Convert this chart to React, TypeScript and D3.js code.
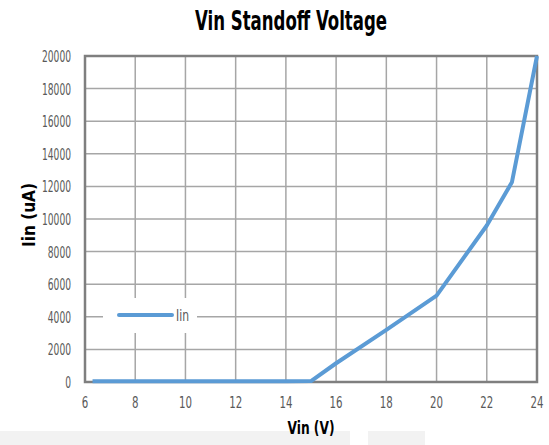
import { useEffect, useRef } from "react";
import * as d3 from "d3";

const width = 549;
const height = 445;

const vin = [6.3, 8, 10, 12, 14, 15, 16, 18, 20, 22, 23, 24];
const iin = [50, 50, 50, 50, 50, 60, 1150, 3200, 5300, 9600, 12250, 20000];
const xTicks = [6, 8, 10, 12, 14, 16, 18, 20, 22, 24];
const yTicks = [0, 2000, 4000, 6000, 8000, 10000, 12000, 14000, 16000, 18000, 20000];
const seriesName = "Iin";

const font = "'DejaVu Sans Condensed', 'DejaVu Sans', sans-serif";

const App = () => {
  const chartRef = useRef<SVGSVGElement>(null);

  useEffect(() => {
    const svg = d3.select(chartRef.current);
    svg.selectAll("*").remove();

    const x = d3.scaleLinear().domain([6, 24]).range([85, 537]);
    const y = d3.scaleLinear().domain([0, 20000]).range([382, 56]);

    // light band at the bottom of the screenshot
    svg.append("rect").attr("x", 0).attr("y", 431).attr("width", 350).attr("height", 14).attr("fill", "#f2f2f2");
    svg.append("rect").attr("x", 368).attr("y", 431).attr("width", 57).attr("height", 14).attr("fill", "#f2f2f2");

    svg.append("text")
      .attr("x", 195).attr("y", 30)
      .attr("textLength", 192).attr("lengthAdjust", "spacingAndGlyphs")
      .style("font-family", font).style("font-weight", "bold").style("font-size", "27px")
      .attr("fill", "#000")
      .text("Vin Standoff Voltage");

    const grid = svg.append("g").attr("stroke", "#a6a6a6").attr("stroke-width", 1.5);
    grid.selectAll(".gx").data(xTicks).enter().append("line")
      .attr("x1", d => x(d)).attr("x2", d => x(d))
      .attr("y1", y(0)).attr("y2", y(20000));
    grid.selectAll(".gy").data(yTicks).enter().append("line")
      .attr("x1", x(6)).attr("x2", x(24))
      .attr("y1", d => y(d)).attr("y2", d => y(d));

    // legend box over the grid
    svg.append("rect").attr("x", 103).attr("y", 298).attr("width", 94).attr("height", 35).attr("fill", "#fff");

    svg.append("rect")
      .attr("x", x(6)).attr("y", y(20000))
      .attr("width", x(24) - x(6)).attr("height", y(0) - y(20000))
      .attr("fill", "none").attr("stroke", "#7f7f7f").attr("stroke-width", 2.5);

    const line = d3.line<number>().x((d, i) => x(vin[i])).y(d => y(d));
    svg.append("path")
      .datum(iin)
      .attr("d", line)
      .attr("fill", "none")
      .attr("stroke", "#5b9bd5")
      .attr("stroke-width", 4)
      .attr("stroke-linejoin", "round");

    svg.append("g").selectAll("text").data(xTicks).enter().append("text")
      .attr("x", d => x(d)).attr("y", 408)
      .attr("text-anchor", "middle")
      .attr("textLength", d => String(d).length * 6.5).attr("lengthAdjust", "spacingAndGlyphs")
      .style("font-family", font).style("font-size", "16px")
      .attr("fill", "#595959")
      .text(d => d);

    svg.append("g").selectAll("text").data(yTicks).enter().append("text")
      .attr("x", 71).attr("y", d => y(d) + 6)
      .attr("text-anchor", "end")
      .attr("textLength", d => String(d).length * 5.8).attr("lengthAdjust", "spacingAndGlyphs")
      .style("font-family", font).style("font-size", "16px")
      .attr("fill", "#595959")
      .text(d => d);

    svg.append("text")
      .attr("x", 311).attr("y", 434)
      .attr("text-anchor", "middle")
      .attr("textLength", 47).attr("lengthAdjust", "spacingAndGlyphs")
      .style("font-family", font).style("font-weight", "bold").style("font-size", "18px")
      .text("Vin (V)");

    svg.append("text")
      .attr("transform", `translate(35,215) rotate(-90)`)
      .attr("text-anchor", "middle")
      .attr("textLength", 64).attr("lengthAdjust", "spacingAndGlyphs")
      .style("font-family", font).style("font-weight", "bold").style("font-size", "18px")
      .text("Iin (uA)");

    // legend
    svg.append("line")
      .attr("x1", 119).attr("x2", 172).attr("y1", 315).attr("y2", 315)
      .attr("stroke", "#5b9bd5").attr("stroke-width", 4).attr("stroke-linecap", "round");
    svg.append("text")
      .attr("x", 176).attr("y", 321)
      .attr("textLength", 13).attr("lengthAdjust", "spacingAndGlyphs")
      .style("font-family", font).style("font-size", "16px")
      .attr("fill", "#595959")
      .text(seriesName);
  }, []);

  return (
    <svg ref={chartRef} width={width} height={height}
      style={{ position: "absolute", left: 0, top: 0, background: "#fff" }}></svg>
  );
};

export default App;
